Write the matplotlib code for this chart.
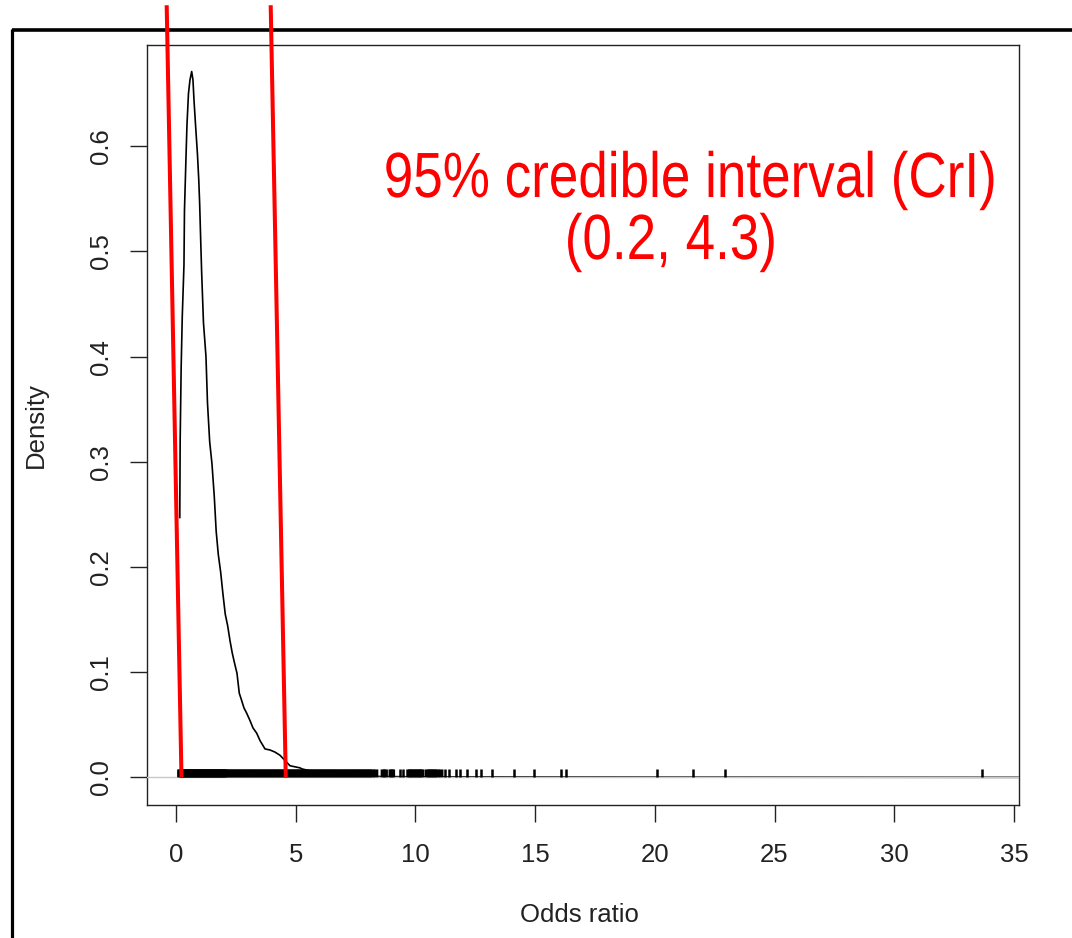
import matplotlib
matplotlib.use("Agg")
import matplotlib.pyplot as plt
from matplotlib.lines import Line2D
from matplotlib.patheffects import AbstractPathEffect
from matplotlib.transforms import Affine2D

plt.rcParams['font.family'] = ['Liberation Sans', 'DejaVu Sans']

# ---------------- data ----------------
# density curve of the odds ratio
density_x = [0.159, 0.175, 0.217, 0.263, 0.334, 0.355, 0.418, 0.459, 0.522, 0.585,
             0.656, 0.710, 0.752, 0.815, 0.898, 0.952, 0.990, 1.032, 1.074, 1.149,
             1.253, 1.316, 1.408, 1.504, 1.600, 1.679, 1.767, 1.867, 1.963, 2.059,
             2.160, 2.256, 2.352, 2.452, 2.548, 2.644, 2.744, 2.840, 2.953, 3.091,
             3.216, 3.371, 3.509, 3.718, 3.927, 4.135, 4.344, 4.553, 4.762, 5.180,
             5.263, 6.0, 7.0, 8.5, 10.0, 12.0, 15.0, 20.0, 27.0, 35.2]
density_y = [0.247, 0.320, 0.390, 0.438, 0.487, 0.539, 0.589, 0.620, 0.650, 0.663,
             0.671, 0.663, 0.644, 0.621, 0.592, 0.568, 0.545, 0.511, 0.479, 0.432,
             0.400, 0.356, 0.319, 0.298, 0.267, 0.234, 0.212, 0.195, 0.174, 0.155,
             0.144, 0.130, 0.118, 0.108, 0.099, 0.080, 0.073, 0.066, 0.061, 0.054,
             0.047, 0.042, 0.035, 0.027, 0.026, 0.024, 0.021, 0.016, 0.011, 0.009,
             0.008, 0.004, 0.0025, 0.0008, 0.0005, 0.0004, 0.0003, 0.0002, 0.0001, 0.0]

# posterior samples shown as a rug: the dense run and the sparse right tail
rug_dense = [0.15, 0.2, 0.25, 0.3, 0.35, 0.4, 0.45, 0.5, 0.55,
             0.6, 0.65, 0.7, 0.75, 0.8, 0.85, 0.9, 0.95, 1.0, 1.05,
             1.1, 1.15, 1.2, 1.25, 1.3, 1.35, 1.4, 1.45, 1.5, 1.55,
             1.6, 1.65, 1.7, 1.75, 1.8, 1.85, 1.9, 1.95, 2.0, 2.05,
             2.1, 2.2, 2.3, 2.4, 2.5, 2.6, 2.7, 2.8, 2.9, 3.0,
             3.1, 3.2, 3.3, 3.4, 3.5, 3.6, 3.7, 3.8, 3.9, 4.0,
             4.1, 4.2, 4.3, 4.4, 4.5, 4.6, 4.7, 4.8, 4.9, 5.0,
             5.1, 5.2, 5.3, 5.4, 5.5, 5.6, 5.7, 5.8, 5.9, 6.0,
             6.1, 6.2, 6.3, 6.4, 6.5, 6.6, 6.7, 6.8, 6.9, 7.0,
             7.1, 7.2, 7.3, 7.4, 7.5, 7.6, 7.7, 7.8, 7.9, 8.0,
             8.1, 8.2, 8.35,
             8.65, 8.75, 8.98, 9.05,
             9.72, 9.8, 9.9, 10.0, 10.1, 10.2, 10.28,
             10.5, 10.6, 10.7, 10.8, 10.9, 11.07]
rug_sparse = [9.37, 9.49, 11.25, 11.4, 11.68, 11.85, 12.14, 12.52, 12.75, 13.18,
              14.12, 14.97, 16.09, 16.28, 20.10, 21.60, 22.92, 33.67]

# red credible-interval marker lines (drawn slanted in the original)
cri_top_x = [-0.388, 3.956]
cri_bottom_x = [0.230, 4.586]
cri_top_y = 0.734
cri_bottom_y = 0.0

x_ticks = [0, 5, 10, 15, 20, 25, 30, 35]
y_ticks = [0.0, 0.1, 0.2, 0.3, 0.4, 0.5, 0.6]
x_label = "Odds ratio"
y_label = "Density"
annotation_line1 = "95% credible interval (CrI)"
annotation_line2 = "(0.2, 4.3)"


class HorizontalSqueeze(AbstractPathEffect):
    """Narrow the glyph outlines horizontally around a given pixel column."""

    def __init__(self, sx, cx):
        super().__init__()
        self.sx = sx
        self.cx = cx

    def draw_path(self, renderer, gc, tpath, affine, rgbFace=None):
        squeeze = Affine2D().translate(-self.cx, 0).scale(self.sx, 1).translate(self.cx, 0)
        renderer.draw_path(gc, tpath, affine + squeeze, rgbFace)


# ---------------- figure ----------------
W, H = 1072, 938
fig = plt.figure(figsize=(W / 100, H / 100), dpi=100)
fig.patch.set_facecolor("white")

ax = fig.add_axes([147 / W, 1 - 805 / H, 872 / W, 760 / H])
ax.set_xlim(-1.21, 35.21)
ax.set_ylim(-0.0263, 0.6962)

# outer frame (top and left thick black lines)
fig.add_artist(Line2D([12 / W, 1.0], [1 - 30 / H, 1 - 30 / H], transform=fig.transFigure,
                      color="black", lw=2.6, zorder=-1, solid_capstyle="butt"))
fig.add_artist(Line2D([12 / W, 12 / W], [1 - 29 / H, 0.0], transform=fig.transFigure,
                      color="black", lw=2.3, zorder=-1, solid_capstyle="butt"))

# density curve
ax.plot(density_x, density_y, color="black", lw=1.2, zorder=2)
# zero line
ax.axhline(0, color="#c8c8c8", lw=1.0, zorder=3)
# rug
ax.vlines(rug_dense, 0.0, 0.0075, color="black", lw=3.5, zorder=4, snap=False)
ax.vlines(rug_sparse, 0.0, 0.0075, color="black", lw=1.8, zorder=4)

# red CrI lines
for xt, xb in zip(cri_top_x, cri_bottom_x):
    ax.plot([xt, xb], [cri_top_y, cri_bottom_y], color="#ff0000", lw=2.9,
            clip_on=False, zorder=10, solid_capstyle="butt")

# axes styling
for s in ax.spines.values():
    s.set_color("#222222")
    s.set_linewidth(1.0)
ax.set_xticks(x_ticks)
ax.set_xticklabels([str(v) for v in x_ticks])
ax.set_yticks(y_ticks)
ax.set_yticklabels([f"{v:.1f}" for v in y_ticks], rotation=90, va="center")
ax.tick_params(axis="both", direction="out", length=12.5, width=1.0, color="#222222",
               labelsize=18.5, labelcolor="#222222")
ax.tick_params(axis="x", pad=15)
ax.tick_params(axis="y", pad=12)

ax.set_xlabel(x_label, fontsize=18.5, color="#222222")
ax.set_ylabel(y_label, fontsize=18.5, color="#222222")
ax.xaxis.set_label_coords(0.496, -0.1447)
ax.xaxis.label.set_va("center")
ax.yaxis.set_label_coords(-0.128, 0.5)
ax.yaxis.label.set_va("center")

# red annotation (narrow sans, as in the original)
line1_cx, line2_cx = 690, 671
fig.text(line1_cx / W, 1 - 197 / H, annotation_line1, color="#ff0000", fontsize=46,
         ha="center", va="baseline",
         path_effects=[HorizontalSqueeze(0.83, line1_cx)])
fig.text(line2_cx / W, 1 - 259 / H, annotation_line2, color="#ff0000", fontsize=46,
         ha="center", va="baseline",
         path_effects=[HorizontalSqueeze(0.83, line2_cx)])

fig.savefig("out.png", dpi=100, facecolor="white")
